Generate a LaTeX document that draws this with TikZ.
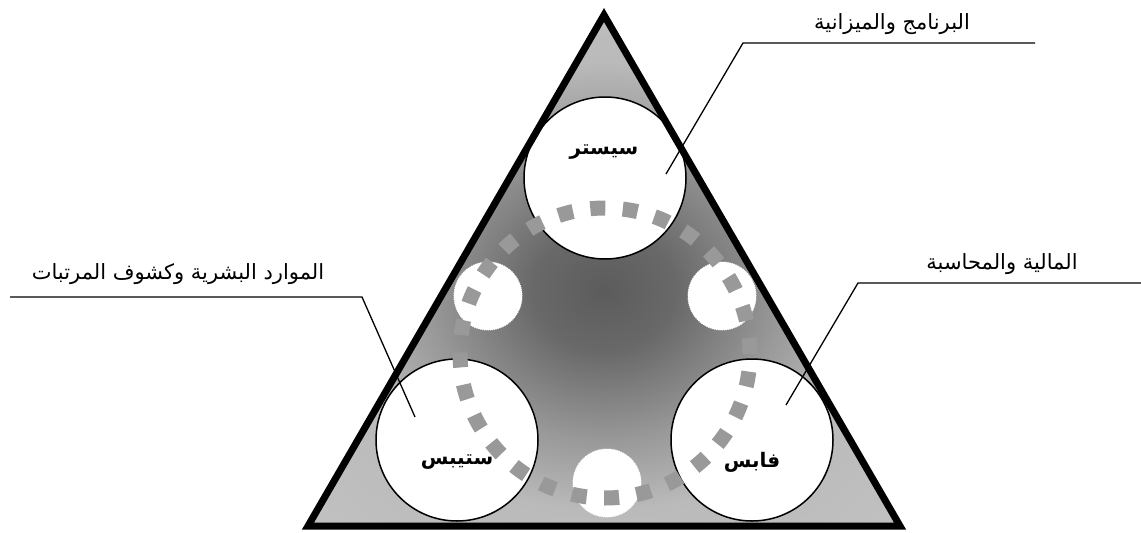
\documentclass[tikz,border=0pt]{standalone}
\usepackage{fontspec}
\newfontfamily\arabicfont[Script=Arabic]{DejaVu Sans}
\TeXXeTstate=1
\pgfdeclareradialshading{sombra}{\pgfpoint{0bp}{-2bp}}{color(0bp)=(black!64); color(6bp)=(black!59); color(15bp)=(black!40); color(22bp)=(black!27); color(50bp)=(black!21); color(100bp)=(black!21)}

\tikzset{
    etiqueta/.style={font=\arabicfont\fontsize{21}{24}\selectfont, inner sep=0pt},
    nombre/.style={font=\arabicfont\bfseries\fontsize{20}{24}\selectfont, inner sep=0pt},
    modulo/.style={circle, draw, line width=1.5pt, fill=white, minimum size=162pt, inner sep=0pt},
    hueco/.style={circle, fill=white, draw=white, densely dotted, line width=1pt, minimum size=68pt, inner sep=0pt},
    guia/.style={line width=1.3pt},
}

\begin{document}
\begin{tikzpicture}[x=1pt, y=-1pt]
    \useasboundingbox (0,0) rectangle (1141,533);

    % Triangulo
    \coordinate (vA) at (604,15);
    \coordinate (vB) at (308,526);
    \coordinate (vC) at (900,526);
    \fill[shading=sombra] (vA) -- (vB) -- (vC) -- cycle;

    % Huecos
    \node[hueco] (h1) at (488,296) {};
    \node[hueco] (h2) at (722,296) {};
    \node[hueco] (h3) at (607,483) {};

    % Modulos
    \node[modulo] (sis) at (605,178) {};
    \node[modulo] (stp) at (457,440) {};
    \node[modulo] (fab) at (752,440) {};

    \node[nombre] (tsis) at (604,152) {\beginR سيستر\endR};
    \node[nombre] (tstp) at (457,462) {\beginR ستيبس\endR};
    \node[nombre] (tfab) at (752,462) {\beginR فابس\endR};

    % Anillo
    \draw[black!40, line width=15pt, dash pattern=on 15pt off 17.5pt] (605,353) circle[radius=145pt];

    \draw[line width=7pt, line join=miter] (vA) -- (vB) -- (vC) -- cycle;

    % Etiquetas
    \node[etiqueta] (lsis) at (892,24) {\beginR البرنامج والميزانية\endR};
    \node[etiqueta] (lfab) at (1002,264) {\beginR المالية والمحاسبة\endR};
    \node[etiqueta] (lstp) at (178,274) {\beginR الموارد البشرية وكشوف المرتبات\endR};

    \coordinate (psis) at (666,174);
    \coordinate (ksis) at (743,43);
    \coordinate (esis) at (1035,43);
    \draw[guia] (psis) -- (ksis) -- (esis);

    \coordinate (pfab) at (786,405);
    \coordinate (kfab) at (858,283);
    \coordinate (efab) at (1141,283);
    \draw[guia] (pfab) -- (kfab) -- (efab);

    \coordinate (pstp) at (415,417);
    \coordinate (kstp) at (362,297);
    \coordinate (estp) at (10,297);
    \draw[guia] (pstp) -- (kstp) -- (estp);

\end{tikzpicture}
\end{document}
